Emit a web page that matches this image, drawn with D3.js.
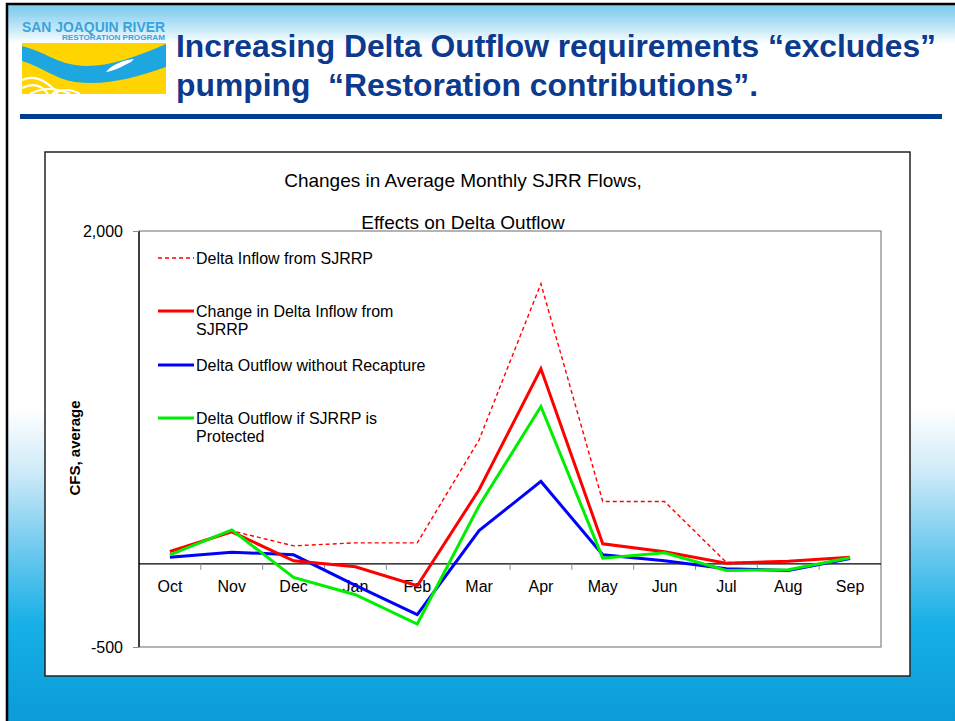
<!DOCTYPE html>
<html><head><meta charset="utf-8">
<script src="https://cdn.jsdelivr.net/npm/d3@7"></script>
<style>html,body{margin:0;padding:0;background:#fff;}svg{display:block;}</style>
</head><body>
<script>
const months = ["Oct","Nov","Dec","Jan","Feb","Mar","Apr","May","Jun","Jul","Aug","Sep"];
const deltaInflow = [74, 198, 108, 126, 126, 745, 1683, 374, 374, 8, 14, 40];
const changeInflow = [74, 192, 18, -18, -132, 445, 1172, 120, 72, 4, 16, 40];
const outflowNoRecapture = [40, 70, 54, -130, -306, 200, 495, 54, 18, -30, -40, 32];
const outflowProtected = [54, 204, -82, -186, -362, 349, 945, 34, 66, -40, -36, 36];
const yTickValues = [2000, -500];
const yTickLabels = ["2,000", "-500"];
const seriesNames = ["Delta Inflow from SJRRP", "Change in Delta Inflow from SJRRP", "Delta Outflow without Recapture", "Delta Outflow if SJRRP is Protected"];
const titleLines = ["Increasing Delta Outflow requirements \u201cexcludes\u201d", "pumping  \u201cRestoration contributions\u201d."];
const chartTitleLines = ["Changes in Average Monthly SJRR Flows,", "Effects on Delta Outflow"];
const yAxisLabel = "CFS, average";

const W = 955, H = 721;
const FONT = "'Liberation Sans', Arial, Helvetica, sans-serif";
const svg = d3.select("body").append("svg").attr("width", W).attr("height", H);
const defs = svg.append("defs");

// background gradient
const bg = defs.append("linearGradient").attr("id","bg").attr("x1",0).attr("y1",0).attr("x2",0).attr("y2",1);
[[0,"#7fcbee"],[0.012,"#8fd2f1"],[0.035,"#c6e9f8"],[0.055,"#ffffff"],[0.56,"#ffffff"],[0.65,"#cdeaf8"],[0.76,"#6cc8ee"],[0.86,"#16b0e6"],[1,"#0a9ad8"]]
  .forEach(([o,c]) => bg.append("stop").attr("offset",o).attr("stop-color",c));
svg.append("rect").attr("x",7).attr("y",4).attr("width",W).attr("height",H).attr("fill","url(#bg)")
  .attr("stroke","#000").attr("stroke-width",2.5);

// logo
const logo = svg.append("g");
logo.append("text").attr("x",22).attr("y",32).attr("font-family",FONT).attr("font-weight","bold")
  .attr("font-size",14).attr("fill","#3aa2dc").attr("textLength",143).attr("lengthAdjust","spacingAndGlyphs").text("SAN JOAQUIN RIVER");
logo.append("text").attr("x",62).attr("y",40).attr("font-family",FONT).attr("font-weight","bold")
  .attr("font-size",7).attr("fill","#3aa2dc").attr("textLength",103).attr("lengthAdjust","spacingAndGlyphs").text("RESTORATION PROGRAM");
logo.append("rect").attr("x",22).attr("y",43).attr("width",144).attr("height",51).attr("fill","#ffd400");
logo.append("path").attr("fill","#1ea6e0")
  .attr("d","M22,46 C45,52 55,62 75,65 C100,69 130,60 166,44 L166,67 C135,78 105,86 75,82 C55,79 40,66 22,61 Z");
logo.append("path").attr("fill","#fff")
  .attr("d","M106,72 C112,64 124,60 134,59 L131,62 C123,66 114,71 106,72 Z");
[[22,80,40,72,58,94],[22,88,38,80,48,94],[30,94,48,84,70,94],[52,94,66,86,80,94]].forEach(p=>{
  logo.append("path").attr("fill","none").attr("stroke","#fff").attr("stroke-width",2.2)
    .attr("d",`M${p[0]},${p[1]} Q${p[2]},${p[3]} ${p[4]},${p[5]}`);
});

// header title
svg.append("text").attr("x",176).attr("y",57).attr("font-family",FONT).attr("font-weight","bold")
  .attr("font-size",32).attr("fill","#0b3a8e").attr("textLength",760).attr("lengthAdjust","spacingAndGlyphs").text(titleLines[0]);
svg.append("text").attr("x",176).attr("y",96).attr("font-family",FONT).attr("font-weight","bold")
  .attr("font-size",32).attr("fill","#0b3a8e").attr("xml:space","preserve").style("white-space","pre")
  .attr("textLength",582).attr("lengthAdjust","spacingAndGlyphs").text(titleLines[1]);
svg.append("rect").attr("x",20).attr("y",114).attr("width",922).attr("height",5).attr("fill","#003c8f");

// chart box
svg.append("rect").attr("x",45).attr("y",152).attr("width",865).attr("height",524)
  .attr("fill","#fff").attr("stroke","#222").attr("stroke-width",1.5);

const plot = {l:139, r:881, t:231, b:647};
const x = d3.scaleBand().domain(months).range([plot.l, plot.r]);
const y = d3.scaleLinear().domain([-500, 2000]).range([plot.b, plot.t]);

svg.append("rect").attr("x",plot.l).attr("y",plot.t).attr("width",plot.r-plot.l).attr("height",plot.b-plot.t)
  .attr("fill","#fff").attr("stroke","#8c8c8c").attr("stroke-width",1.3);

// chart title
chartTitleLines.forEach((t,i)=>{
  svg.append("text").attr("x",463).attr("y",[187,229][i]).attr("text-anchor","middle")
    .attr("font-family",FONT).attr("font-size",19).attr("fill","#000").text(t);
});

// y axis
const yAxis = d3.axisLeft(y).tickValues(yTickValues).tickSize(6).tickPadding(10)
  .tickFormat((d,i)=>yTickLabels[i]);
const yg = svg.append("g").attr("transform",`translate(${plot.l},0)`).call(yAxis);
yg.select(".domain").attr("stroke","#000").attr("stroke-width",1.3).attr("d",`M0,${plot.t}V${plot.b}`);
yg.selectAll(".tick line").attr("stroke","#8c8c8c");
yg.selectAll(".tick text").attr("font-family",FONT).attr("font-size",16).attr("fill","#000");

// x axis at zero
const xAxis = d3.axisBottom(x).tickSize(0).tickPadding(17);
const xg = svg.append("g").attr("transform",`translate(0,${y(0)})`).call(xAxis);
xg.select(".domain").attr("stroke","#000").attr("stroke-width",1.3).attr("d",`M${plot.l},0H${plot.r}`);
xg.selectAll(".tick text").attr("font-family",FONT).attr("font-size",16).attr("fill","#000");
const bounds = months.slice(1).map(m => x(m));
xg.selectAll(".sep").data(bounds).enter().append("line").attr("class","sep")
  .attr("x1",d=>d).attr("x2",d=>d).attr("y1",0).attr("y2",6).attr("stroke","#8c8c8c").attr("stroke-width",1);

// y label
svg.append("text").attr("transform","translate(80,448) rotate(-90)").attr("text-anchor","middle")
  .attr("font-family",FONT).attr("font-weight","bold").attr("font-size",15).attr("fill","#000").text(yAxisLabel);

// lines
const cx = m => x(m) + x.bandwidth()/2;
const line = d3.line().x((d,i)=>cx(months[i])).y(d=>y(d));
const series = [
  {vals: deltaInflow, color:"#ff0000", w:1.4, dash:"4,3"},
  {vals: outflowNoRecapture, color:"#0000ff", w:3, dash:null},
  {vals: changeInflow, color:"#ff0000", w:3, dash:null},
  {vals: outflowProtected, color:"#00ee00", w:3, dash:null}
];
series.forEach(s=>{
  svg.append("path").attr("d",line(s.vals)).attr("fill","none").attr("stroke",s.color)
    .attr("stroke-width",s.w).attr("stroke-dasharray",s.dash).attr("stroke-linejoin","miter");
});

// legend
const leg = [
  {name:seriesNames[0], lines:["Delta Inflow from SJRRP"], y:258, color:"#ff0000", w:1.4, dash:"4,3"},
  {name:seriesNames[1], lines:["Change in Delta Inflow from","SJRRP"], y:311, color:"#ff0000", w:3, dash:null},
  {name:seriesNames[2], lines:["Delta Outflow without Recapture"], y:365, color:"#0000ff", w:3, dash:null},
  {name:seriesNames[3], lines:["Delta Outflow if SJRRP is","Protected"], y:418, color:"#00ee00", w:3, dash:null}
];
leg.forEach(e=>{
  svg.append("line").attr("x1",158).attr("x2",194).attr("y1",e.y).attr("y2",e.y)
    .attr("stroke",e.color).attr("stroke-width",e.w).attr("stroke-dasharray",e.dash);
  e.lines.forEach((t,i)=>{
    svg.append("text").attr("x",196).attr("y",e.y + 6 + i*18).attr("font-family",FONT)
      .attr("font-size",16).attr("fill","#000").text(t);
  });
});
</script>
</body></html>
